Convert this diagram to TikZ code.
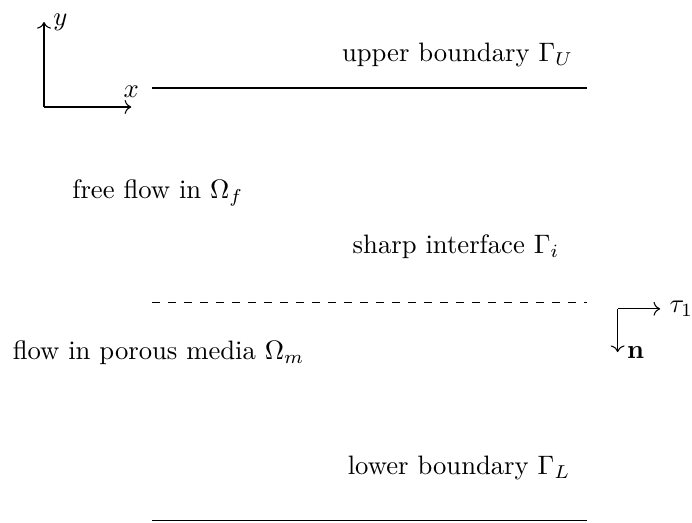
\documentclass[tikz,border=0pt]{standalone}
\usepackage{amsmath}
\usetikzlibrary{arrows.meta,positioning}

\begin{document}
\begin{tikzpicture}[
  bnd/.style={draw, line width=0.4pt},
  ifc/.style={bnd, dashed},
  lbl/.style={align=center}
]
  \useasboundingbox (0,0) rectangle (9.12,-6.89);

  % axes
  \coordinate (o) at (0.58,-1.41);
  \coordinate (ox) at (1.73,-1.41);
  \coordinate (oy) at (0.58,-0.29);
  \draw[->] (o) -- (oy) node[right] {$y$};
  \draw[->] (o) -- (ox) node[above] {$x$};

  % boundaries
  \coordinate (ul) at (2.00,-1.16);
  \coordinate (ur) at (7.73,-1.16);
  \coordinate (il) at (2.00,-3.99);
  \coordinate (ir) at (7.73,-3.99);
  \coordinate (ll) at (2.00,-6.86);
  \coordinate (lr) at (7.73,-6.86);
  \draw[bnd] (ul) -- (ur);
  \draw[ifc] (il) -- (ir);
  \draw[bnd] (ll) -- (lr);

  % labels
  \node[lbl] (upper) at (6.03,-0.72) {upper boundary $\Gamma_U$};
  \node[lbl] (free) at (2.08,-2.54) {free flow in $\Omega_f$};
  \node[lbl] (sharp) at (6.01,-3.25) {sharp interface $\Gamma_i$};
  \node[lbl] (porous) at (2.09,-4.65) {flow in porous media $\Omega_m$};
  \node[lbl] (lower) at (6.05,-6.17) {lower boundary $\Gamma_L$};

  % tangent and normal
  \coordinate (c) at (8.14,-4.07);
  \coordinate (ct) at (8.70,-4.07);
  \coordinate (cn) at (8.14,-4.64);
  \draw[->] (c) -- (ct) node[right] {$\tau_1$};
  \draw[->] (c) -- (cn) node[right] {$\mathbf{n}$};
\end{tikzpicture}
\end{document}
